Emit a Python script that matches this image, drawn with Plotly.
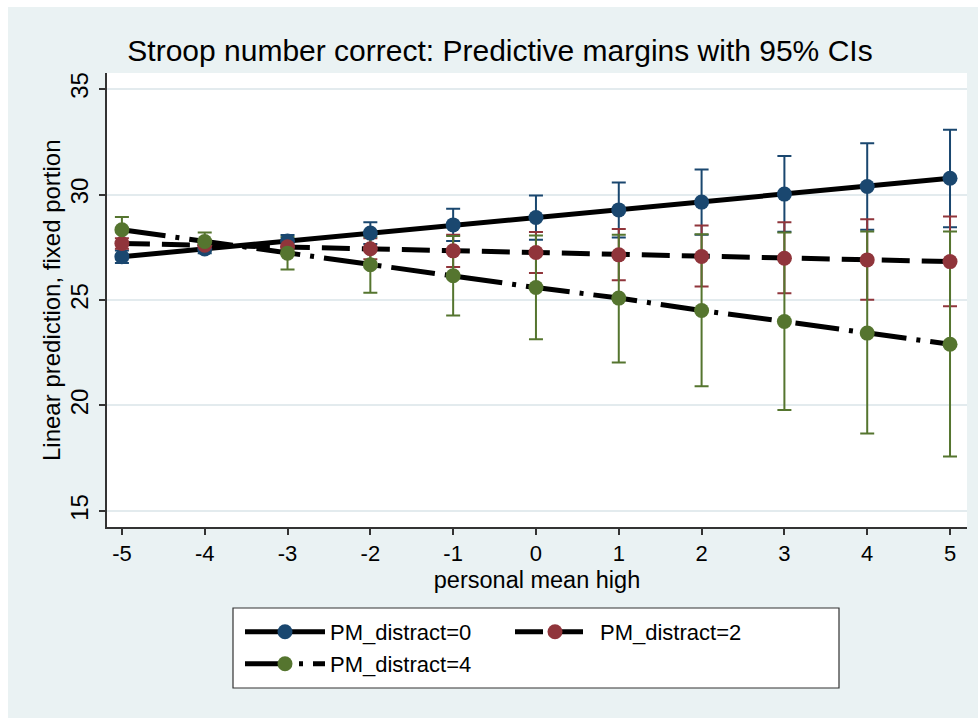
import plotly.graph_objects as go

# ---------------- data ----------------
x_vals = [-5, -4, -3, -2, -1, 0, 1, 2, 3, 4, 5]

pm0_mean = [27.05, 27.42, 27.80, 28.17, 28.56, 28.91, 29.27, 29.64, 30.02, 30.38, 30.77]
pm0_low  = [26.75, 27.22, 27.52, 27.65, 27.80, 27.85, 27.96, 28.09, 28.23, 28.33, 28.45]
pm0_high = [27.35, 27.62, 28.08, 28.69, 29.32, 29.95, 30.57, 31.18, 31.83, 32.43, 33.07]

pm2_mean = [27.68, 27.60, 27.52, 27.43, 27.33, 27.25, 27.14, 27.06, 26.98, 26.90, 26.82]
pm2_low  = [27.43, 27.42, 27.24, 26.93, 26.57, 26.28, 25.94, 25.64, 25.32, 25.01, 24.70]
pm2_high = [27.93, 27.78, 27.80, 27.93, 28.09, 28.22, 28.37, 28.53, 28.69, 28.83, 28.96]

pm4_mean = [28.33, 27.77, 27.22, 26.67, 26.15, 25.59, 25.09, 24.50, 23.98, 23.43, 22.90]
pm4_low  = [27.73, 27.33, 26.45, 25.34, 24.27, 23.14, 22.04, 20.91, 19.79, 18.67, 17.58]
pm4_high = [28.93, 28.20, 27.99, 28.00, 28.03, 28.06, 28.09, 28.12, 28.20, 28.25, 28.25]

series_names = ["PM_distract=0", "PM_distract=2", "PM_distract=4"]
y_ticks = [15, 20, 25, 30, 35]
x_ticks = x_vals

# ---------------- styling ----------------
FONT = "Liberation Sans, Arial, Helvetica, sans-serif"
BG = "#eaf2f3"
colors = ["#1a476f", "#90353b", "#55752f"]
dashes = ["solid", "28px,12px", "44px,10px,4px,10px"]
legends = ["legend", "legend2", "legend3"]

W, H = 978, 718
ML, MR, MT, MB = 107, 11, 73, 191
PW, PH = W - ML - MR, H - MT - MB

def px_x(px):
    return (px - ML) / PW

def px_y(py):
    return (H - MB - py) / PH

series = [
    (pm0_mean, pm0_low, pm0_high),
    (pm2_mean, pm2_low, pm2_high),
    (pm4_mean, pm4_low, pm4_high),
]

fig = go.Figure()

# confidence-interval caps first (drawn beneath the lines)
for (m, lo, hi), c in zip(series, colors):
    fig.add_trace(go.Scatter(
        x=x_vals, y=m, mode="markers",
        marker=dict(size=1, opacity=0),
        error_y=dict(type="data", symmetric=False,
                     array=[h - v for h, v in zip(hi, m)],
                     arrayminus=[v - l for v, l in zip(m, lo)],
                     color=c, thickness=2, width=7),
        showlegend=False, hoverinfo="skip"))

# connected lines with markers
for (m, lo, hi), c, d, name, lg in zip(series, colors, dashes, series_names, legends):
    fig.add_trace(go.Scatter(
        x=x_vals, y=m, mode="lines+markers", name=name,
        line=dict(color="black", width=5, dash=d),
        marker=dict(color=c, size=15, symbol="circle"),
        legend=lg))

shapes = [
    # legend box
    dict(type="rect", xref="paper", yref="paper",
         x0=px_x(233), x1=px_x(839), y0=px_y(688), y1=px_y(608),
         fillcolor="white", line=dict(color="#333333", width=1.2), layer="below"),
    # white strips at top and left edge of the image
    dict(type="rect", xref="paper", yref="paper",
         x0=px_x(-5), x1=px_x(W + 5), y0=px_y(7), y1=px_y(-5),
         fillcolor="white", line=dict(width=0), layer="below"),
    dict(type="rect", xref="paper", yref="paper",
         x0=px_x(-5), x1=px_x(8), y0=px_y(H + 5), y1=px_y(-5),
         fillcolor="white", line=dict(width=0), layer="below"),
]

leg_common = dict(bgcolor="rgba(0,0,0,0)", borderwidth=0,
                  font=dict(family=FONT, size=22, color="black"),
                  xanchor="left", yanchor="middle", itemwidth=80)

fig.update_layout(
    width=W, height=H,
    margin=dict(l=ML, r=MR, t=MT, b=MB, pad=0),
    paper_bgcolor=BG, plot_bgcolor="white",
    font=dict(family=FONT, color="black"),
    title=dict(text="Stroop number correct: Predictive margins with 95% CIs",
               x=500 / W, xanchor="center", xref="container",
               y=1 - 50 / H, yanchor="middle", yref="container",
               font=dict(family=FONT, size=30, color="black")),
    xaxis=dict(range=[-5.18, 5.205], tickvals=x_ticks,
               ticktext=[str(v) for v in x_ticks],
               showgrid=False, zeroline=False,
               showline=True, linecolor="#333333", linewidth=1.5,
               ticks="outside", ticklen=6, tickwidth=1.5, tickcolor="#333333",
               tickfont=dict(family=FONT, size=22, color="black"),
               title=dict(text="personal mean high", standoff=6,
                          font=dict(family=FONT, size=23.5, color="black"))),
    yaxis=dict(range=[14.24, 35.76], tickvals=y_ticks,
               ticktext=[str(v) for v in y_ticks],
               showgrid=True, gridcolor="#e3ebee", gridwidth=1.5,
               zeroline=False,
               showline=True, linecolor="#333333", linewidth=1.5,
               ticks="outside", ticklen=6, tickwidth=1.5, tickcolor="#333333",
               tickangle=-90, ticklabelstandoff=2,
               tickfont=dict(family=FONT, size=24, color="black")),
    annotations=[dict(text="Linear prediction, fixed portion",
                      xref="paper", yref="paper",
                      x=px_x(51), y=px_y(300),
                      xanchor="center", yanchor="middle",
                      textangle=-90, showarrow=False,
                      font=dict(family=FONT, size=24, color="black"))],
    legend=dict(x=px_x(240), y=px_y(632), **leg_common),
    legend2=dict(x=px_x(510), y=px_y(632), **leg_common),
    legend3=dict(x=px_x(240), y=px_y(664), **leg_common),
    shapes=shapes,
)

fig.write_html("out.html")
